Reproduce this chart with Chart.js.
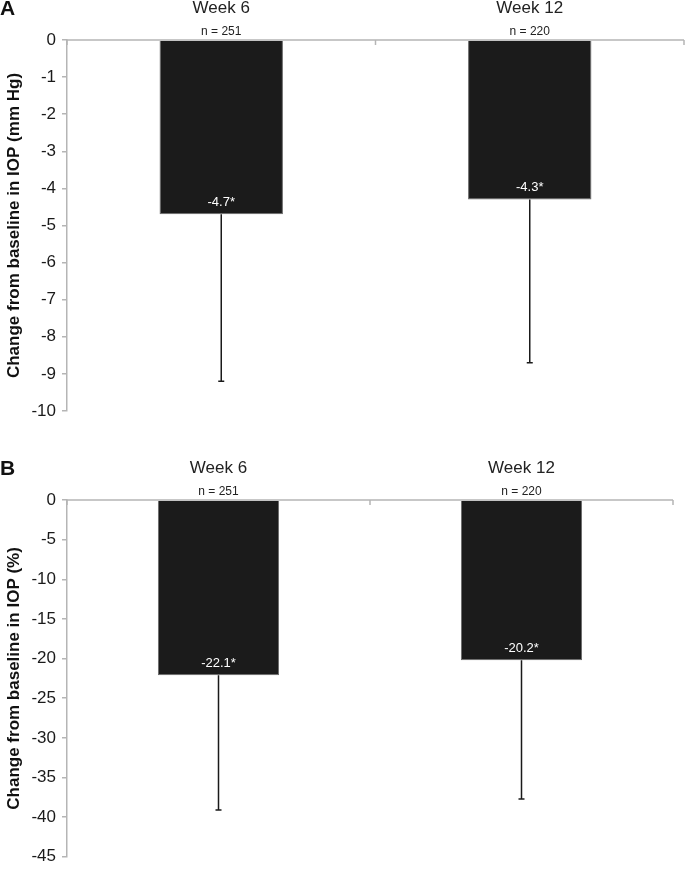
<!DOCTYPE html>
<html>
<head>
<meta charset="utf-8">
<script src="https://cdn.jsdelivr.net/npm/chart.js@4/dist/chart.umd.min.js"></script>
<style>
  html, body { margin: 0; padding: 0; background: #fff; }
  #wrap { position: relative; width: 685px; height: 873px; }
  #wrapA { position: absolute; left: 0; top: 0; width: 685px; height: 440px; }
  #wrapB { position: absolute; left: 0; top: 440px; width: 685px; height: 433px; }
</style>
</head>
<body>
<div id="wrap">
  <div id="wrapA"><canvas id="chartA" width="685" height="440"></canvas></div>
  <div id="wrapB"><canvas id="chartB" width="685" height="433"></canvas></div>
</div>
<script>
// ---- Data ----
const categories = ['Week 6', 'Week 12'];
const sampleSizes = ['n = 251', 'n = 220'];

// Panel A: change from baseline in IOP (mm Hg)
const changeMmHg = [-4.7, -4.3];
const sdMmHg = [4.5, 4.4];
const labelsMmHg = ['-4.7*', '-4.3*'];
const ticksMmHg = [0, -1, -2, -3, -4, -5, -6, -7, -8, -9, -10];

// Panel B: change from baseline in IOP (%)
const changePct = [-22.1, -20.2];
const sdPct = [17.0, 17.5];
const labelsPct = ['-22.1*', '-20.2*'];
const ticksPct = [0, -5, -10, -15, -20, -25, -30, -35, -40, -45];

const FONT = '"Liberation Sans", Arial, Helvetica, sans-serif';

const decorPlugin = {
  id: 'decor',
  afterDatasetsDraw(chart, args, opts) {
    const ctx = chart.ctx;
    const xs = chart.scales.x, ys = chart.scales.y;
    const area = chart.chartArea;
    ctx.save();
    // top axis line with boundary ticks
    ctx.strokeStyle = '#b5b5b5';
    ctx.lineWidth = 1.5;
    ctx.beginPath();
    ctx.moveTo(area.left, area.top);
    ctx.lineTo(area.right, area.top);
    ctx.stroke();
    for (let i = 0; i <= categories.length; i++) {
      const x = xs.getPixelForValue(i - 0.5);
      ctx.beginPath();
      ctx.moveTo(x, area.top);
      ctx.lineTo(x, area.top + 5);
      ctx.stroke();
    }
    // error bars
    ctx.strokeStyle = '#1a1a1a';
    ctx.lineWidth = 1.5;
    opts.values.forEach((v, i) => {
      const x = xs.getPixelForValue(i);
      const y1 = ys.getPixelForValue(v);
      const y2 = ys.getPixelForValue(v - opts.sd[i]);
      ctx.beginPath();
      ctx.moveTo(x, y1);
      ctx.lineTo(x, y2);
      ctx.moveTo(x - 3, y2);
      ctx.lineTo(x + 3, y2);
      ctx.stroke();
    });
    // value labels inside bars
    ctx.fillStyle = '#ffffff';
    ctx.font = '13px ' + FONT;
    ctx.textAlign = 'center';
    ctx.textBaseline = 'middle';
    opts.labels.forEach((t, i) => {
      const x = xs.getPixelForValue(i);
      const y = ys.getPixelForValue(opts.values[i]) - 12;
      ctx.fillText(t, x, y);
    });
    // header labels
    ctx.fillStyle = '#222';
    categories.forEach((c, i) => {
      const x = xs.getPixelForValue(i);
      ctx.font = '17px ' + FONT;
      ctx.fillText(c, x, area.top - 32);
      ctx.font = '12px ' + FONT;
      ctx.fillText(sampleSizes[i], x, area.top - 8);
    });
    // panel letter
    ctx.fillStyle = '#111';
    ctx.font = 'bold 21px ' + FONT;
    ctx.textAlign = 'left';
    ctx.fillText(opts.letter, 0, area.top - 31);
    ctx.restore();
  }
};

function makeChart(id, values, sd, labels, ticks, title, letter, padding) {
  const minV = ticks[ticks.length - 1];
  const step = ticks[0] - ticks[1];
  return new Chart(document.getElementById(id), {
    type: 'bar',
    data: {
      labels: categories,
      datasets: [{
        data: values,
        backgroundColor: '#1b1b1b',
        borderColor: '#6a6a6a',
        borderWidth: 1,
        barPercentage: 0.4,
        categoryPercentage: 1.0
      }]
    },
    options: {
      responsive: false,
      animation: false,
      devicePixelRatio: 1,
      layout: { padding: padding },
      plugins: {
        legend: { display: false },
        tooltip: { enabled: false },
        decor: { values: values, sd: sd, labels: labels, letter: letter }
      },
      scales: {
        x: { display: false },
        y: {
          min: minV,
          max: 0,
          reverse: false,
          afterFit: (s) => { s.width = 67; },
          afterBuildTicks: (s) => { s.ticks = ticks.map(v => ({ value: v })); },
          ticks: {
            stepSize: step,
            color: '#1a1a1a',
            font: { family: FONT, size: 17 },
            padding: 6
          },
          grid: {
            display: true,
            drawOnChartArea: false,
            drawTicks: true,
            tickLength: 5,
            color: '#b5b5b5',
            lineWidth: 1.5
          },
          border: { display: true, color: '#b5b5b5', width: 1.5 },
          title: {
            display: true,
            text: title,
            color: '#111',
            font: { family: FONT, size: 17, weight: 'bold' },
            padding: { top: 4, bottom: 0 }
          }
        }
      }
    },
    plugins: [decorPlugin]
  });
}

makeChart('chartA', changeMmHg, sdMmHg, labelsMmHg, ticksMmHg,
  'Change from baseline in IOP (mm Hg)', 'A',
  { top: 40, right: 1, bottom: 29, left: 0 });
makeChart('chartB', changePct, sdPct, labelsPct, ticksPct,
  'Change from baseline in IOP (%)', 'B',
  { top: 60, right: 12, bottom: 7, left: 0 });
</script>
</body>
</html>
